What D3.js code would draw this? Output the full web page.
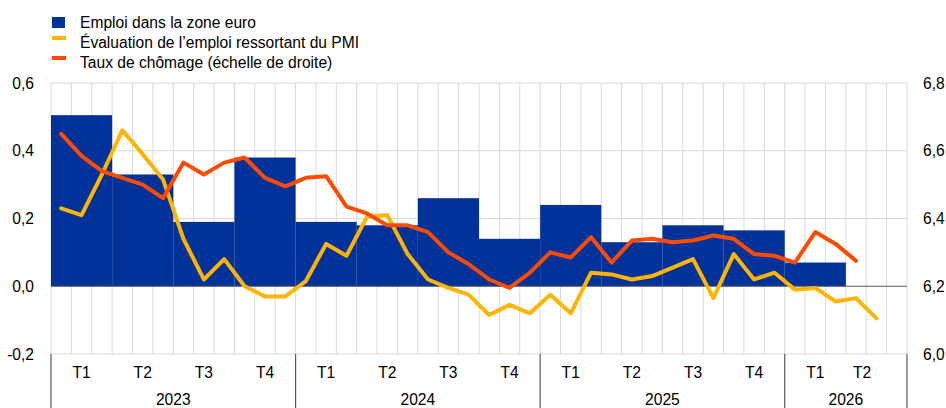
<!DOCTYPE html>
<html>
<head>
<meta charset="utf-8">
<script src="https://cdn.jsdelivr.net/npm/d3@7"></script>
<style>
  body { margin: 0; background: #fff; }
  svg text { font-family: Arial, "Liberation Sans", sans-serif; fill: #000; }
</style>
</head>
<body>
<div id="vis"></div>
<script>
// chart size and plot margins
const FRAME_WIDTH = 946;
const FRAME_HEIGHT = 408;
const MARGINS = {left: 51, right: 39, top: 83, bottom: 54};
const FONT = "15.6px";

// data
const YEARS = ["2023", "2024", "2025", "2026"];
const QUARTERS = ["T1", "T2", "T3", "T4", "T1", "T2", "T3", "T4", "T1", "T2", "T3", "T4", "T1", "T2"];
const N_MONTHS = 42;

// quarterly employment growth (bars, left axis)
const EMPLOI = [0.505, 0.33, 0.19, 0.38, 0.19, 0.18, 0.26, 0.14, 0.24, 0.13, 0.18, 0.165, 0.07];

// monthly PMI employment assessment (left axis)
const PMI = [0.23, 0.21, 0.33, 0.46, 0.39, 0.315, 0.14, 0.02, 0.08, 0.0, -0.03, -0.03,
             0.015, 0.125, 0.09, 0.205, 0.21, 0.095, 0.02, -0.005, -0.025, -0.085, -0.055, -0.08,
             -0.025, -0.08, 0.04, 0.035, 0.02, 0.03, 0.055, 0.08, -0.035, 0.095, 0.02, 0.04,
             -0.01, -0.005, -0.045, -0.035, -0.095];

// monthly unemployment rate (right axis)
const CHOMAGE = [6.65, 6.585, 6.54, 6.52, 6.5, 6.46, 6.565, 6.53, 6.565, 6.58, 6.52, 6.495,
                 6.52, 6.525, 6.435, 6.415, 6.38, 6.38, 6.36, 6.3, 6.265, 6.22, 6.195, 6.24,
                 6.3, 6.285, 6.345, 6.27, 6.335, 6.34, 6.33, 6.335, 6.35, 6.34, 6.295, 6.29,
                 6.27, 6.36, 6.325, 6.275];

const LEFT_TICKS = [-0.2, 0, 0.2, 0.4, 0.6];
const RIGHT_TICKS = [6.0, 6.2, 6.4, 6.6, 6.8];

const LEGEND = [
  {label: "Emploi dans la zone euro", color: "#003299", type: "box"},
  {label: "Évaluation de l’emploi ressortant du PMI", color: "#FFB400", type: "line"},
  {label: "Taux de chômage (échelle de droite)", color: "#FF4B00", type: "line"}
];

const BLUE = "#003299";
const YELLOW = "#FFB400";
const ORANGE = "#FF4B00";
const GRID = "#d9d9d9";

const FRAME = d3.select("#vis")
  .append("svg")
    .attr("width", FRAME_WIDTH)
    .attr("height", FRAME_HEIGHT);

const X_SCALE = d3.scaleLinear()
  .domain([0, N_MONTHS])
  .range([MARGINS.left, FRAME_WIDTH - MARGINS.right]);

const Y_LEFT = d3.scaleLinear()
  .domain([-0.2, 0.6])
  .range([FRAME_HEIGHT - MARGINS.bottom, MARGINS.top]);

const Y_RIGHT = d3.scaleLinear()
  .domain([6.0, 6.8])
  .range([FRAME_HEIGHT - MARGINS.bottom, MARGINS.top]);

const fmt = (d) => d3.format(".1f")(d).replace(".", ",").replace("−", "-");

// vertical grid, one line per month boundary
FRAME.append("g")
  .selectAll("line")
  .data(d3.range(0, N_MONTHS + 1))
  .enter()
  .append("line")
    .attr("x1", (d) => X_SCALE(d))
    .attr("x2", (d) => X_SCALE(d))
    .attr("y1", Y_LEFT(0.6))
    .attr("y2", Y_LEFT(-0.2))
    .attr("stroke", GRID)
    .attr("stroke-width", 1);

// horizontal grid
FRAME.append("g")
  .selectAll("line")
  .data(LEFT_TICKS.filter((d) => d !== 0))
  .enter()
  .append("line")
    .attr("x1", X_SCALE(0))
    .attr("x2", X_SCALE(N_MONTHS))
    .attr("y1", (d) => Y_LEFT(d))
    .attr("y2", (d) => Y_LEFT(d))
    .attr("stroke", GRID)
    .attr("stroke-width", 1);

// quarterly bars, each covering three months
FRAME.append("g")
  .selectAll("rect")
  .data(EMPLOI)
  .enter()
  .append("rect")
    .attr("x", (d, i) => X_SCALE(i * 3))
    .attr("width", (d, i) => X_SCALE(i * 3 + 3) - X_SCALE(i * 3))
    .attr("y", (d) => Y_LEFT(Math.max(0, d)))
    .attr("height", (d) => Math.abs(Y_LEFT(d) - Y_LEFT(0)))
    .attr("fill", BLUE);

// zero line
FRAME.append("line")
  .attr("x1", X_SCALE(0))
  .attr("x2", X_SCALE(N_MONTHS))
  .attr("y1", Y_LEFT(0))
  .attr("y2", Y_LEFT(0))
  .attr("stroke", "#595959")
  .attr("stroke-width", 1.2);

// lines
const pmiLine = d3.line()
  .x((d, i) => X_SCALE(i + 0.5))
  .y((d) => Y_LEFT(d));

const chomLine = d3.line()
  .x((d, i) => X_SCALE(i + 0.5))
  .y((d) => Y_RIGHT(d));

FRAME.append("path")
  .datum(PMI)
  .attr("d", pmiLine)
  .attr("fill", "none")
  .attr("stroke", YELLOW)
  .attr("stroke-width", 4)
  .attr("stroke-linejoin", "round")
  .attr("stroke-linecap", "round");

FRAME.append("path")
  .datum(CHOMAGE)
  .attr("d", chomLine)
  .attr("fill", "none")
  .attr("stroke", ORANGE)
  .attr("stroke-width", 4)
  .attr("stroke-linejoin", "round")
  .attr("stroke-linecap", "round");

// left axis labels
FRAME.append("g")
  .attr("transform", "translate(" + (MARGINS.left - 14) + ",0)")
  .call(d3.axisLeft(Y_LEFT).tickValues(LEFT_TICKS).tickSize(0).tickFormat(fmt))
  .call((g) => g.select(".domain").remove())
  .selectAll("text")
    .attr("font-size", FONT)
    .attr("fill", "#000");

// right axis labels
FRAME.append("g")
  .attr("transform", "translate(" + (FRAME_WIDTH - MARGINS.right + 13) + ",0)")
  .call(d3.axisRight(Y_RIGHT).tickValues(RIGHT_TICKS).tickSize(0).tickFormat(fmt))
  .call((g) => g.select(".domain").remove())
  .selectAll("text")
    .attr("font-size", FONT)
    .attr("fill", "#000");

// quarter labels, the last quarter is centred on the months that have data
const AXIS_Y = Y_LEFT(-0.2);
FRAME.append("g")
  .selectAll("text")
  .data(QUARTERS)
  .enter()
  .append("text")
    .attr("x", (d, i) => (X_SCALE(i * 3) + X_SCALE(Math.min(i * 3 + 3, PMI.length - 0.4))) / 2)
    .attr("y", AXIS_Y + 24)
    .attr("text-anchor", "middle")
    .attr("font-size", FONT)
    .text((d) => d);

// year labels and separators
FRAME.append("g")
  .selectAll("text")
  .data(YEARS)
  .enter()
  .append("text")
    .attr("x", (d, i) => (X_SCALE(i * 12) + X_SCALE(Math.min(N_MONTHS, i * 12 + 12))) / 2)
    .attr("y", AXIS_Y + 51)
    .attr("text-anchor", "middle")
    .attr("font-size", FONT)
    .text((d) => d);

FRAME.append("g")
  .selectAll("line")
  .data([0, 12, 24, 36, 42])
  .enter()
  .append("line")
    .attr("x1", (d) => X_SCALE(d))
    .attr("x2", (d) => X_SCALE(d))
    .attr("y1", AXIS_Y)
    .attr("y2", FRAME_HEIGHT)
    .attr("stroke", "#595959")
    .attr("stroke-width", 1.2);

// legend
const LEG = FRAME.append("g");
LEGEND.forEach((d, i) => {
  const cy = 22 + i * 20;
  if (d.type === "box") {
    LEG.append("rect")
      .attr("x", 52).attr("y", cy - 5)
      .attr("width", 13).attr("height", 11)
      .attr("fill", d.color);
  } else {
    LEG.append("rect")
      .attr("x", 52).attr("y", cy - 6)
      .attr("width", 14).attr("height", 4)
      .attr("fill", d.color);
  }
  LEG.append("text")
    .attr("x", 80)
    .attr("y", cy + 5.5)
    .attr("font-size", FONT)
    .text(d.label);
});
</script>
</body>
</html>
